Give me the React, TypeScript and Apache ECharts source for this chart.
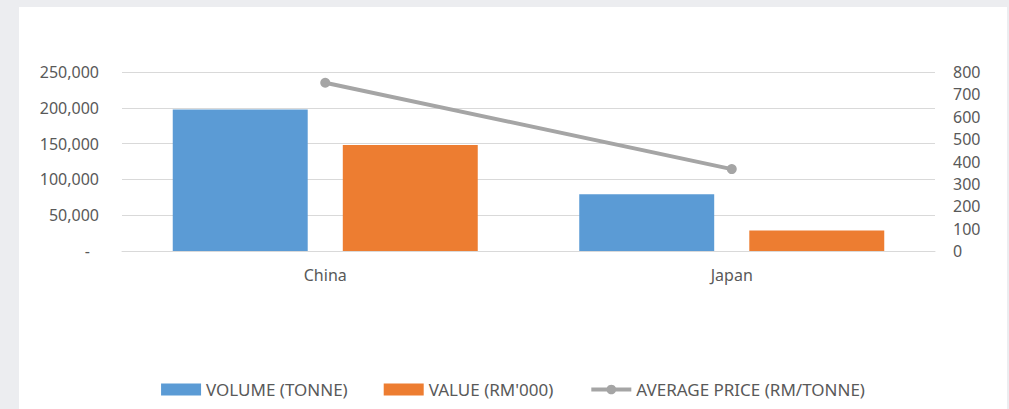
import React, { useEffect, useRef } from "react";
import * as echarts from "echarts";

const categories = ["China", "Japan"];
const volumeTonne = [197500, 79200];
const valueRm000 = [148000, 28700];
const averagePrice = [752, 366];
const leftTicks = [0, 50000, 100000, 150000, 200000, 250000];
const rightTicks = [0, 100, 200, 300, 400, 500, 600, 700, 800];

const labelColor = "#595959";
const font = "'Noto Sans', 'Open Sans', sans-serif";

export default function App() {
  const ref = useRef<HTMLDivElement>(null);
  useEffect(() => {
    document.body.style.margin = "0";
    const chart = echarts.init(ref.current!, null, { renderer: "svg" });
    chart.setOption({
      animation: false,
      backgroundColor: "#ffffff",
      textStyle: { fontFamily: font },
      grid: { left: 103, right: 72, top: 65, bottom: 158, containLabel: false },
      legend: {
        bottom: 6,
        left: "center",
        itemWidth: 40,
        itemHeight: 12,
        itemGap: 36,
        textStyle: { color: labelColor, fontSize: 17, fontFamily: font },
        data: [
          { name: "VOLUME (TONNE)", icon: "rect" },
          { name: "VALUE (RM'000)", icon: "rect" },
          { name: "AVERAGE PRICE (RM/TONNE)", lineStyle: { width: 4, color: "#a5a5a5" } },
        ],
      },
      xAxis: {
        type: "category",
        data: categories,
        axisLine: { lineStyle: { color: "#d9d9d9", width: 1 } },
        axisTick: { show: false },
        axisLabel: { color: labelColor, fontSize: 16, margin: 16, fontFamily: font },
      },
      yAxis: [
        {
          type: "value",
          min: leftTicks[0],
          max: leftTicks[leftTicks.length - 1],
          interval: 50000,
          axisLine: { show: false },
          axisTick: { show: false },
          splitLine: { lineStyle: { color: "#d9d9d9", width: 1 } },
          axisLabel: {
            color: labelColor,
            fontSize: 16,
            margin: 23,
            fontFamily: font,
            formatter: (v: number) => (v === 0 ? "{d|-}" : v.toLocaleString("en-US")),
            rich: { d: { padding: [0, 9, 0, 0], fontSize: 16, color: labelColor } },
          },
        },
        {
          type: "value",
          min: rightTicks[0],
          max: rightTicks[rightTicks.length - 1],
          interval: 100,
          axisLine: { show: false },
          axisTick: { show: false },
          splitLine: { show: false },
          axisLabel: { color: labelColor, fontSize: 16, margin: 18, fontFamily: font },
        },
      ],
      series: [
        {
          name: "VOLUME (TONNE)",
          type: "bar",
          data: volumeTonne,
          barWidth: "33.2%",
          barGap: "26%",
          itemStyle: { color: "#5b9bd5" },
        },
        {
          name: "VALUE (RM'000)",
          type: "bar",
          data: valueRm000,
          barWidth: "33.2%",
          barGap: "26%",
          itemStyle: { color: "#ed7d31" },
        },
        {
          name: "AVERAGE PRICE (RM/TONNE)",
          type: "line",
          yAxisIndex: 1,
          data: averagePrice,
          symbol: "circle",
          symbolSize: 10,
          lineStyle: { color: "#a5a5a5", width: 4 },
          itemStyle: { color: "#a5a5a5" },
        },
      ],
    });
    return () => chart.dispose();
  }, []);
  return (
    <div style={{ position: "fixed", left: 0, top: 0, width: 1009, height: 409, background: "#ecedf0" }}>
      <div ref={ref} style={{ position: "absolute", left: 19, top: 7, width: 988, height: 402 }} />
    </div>
  );
}
